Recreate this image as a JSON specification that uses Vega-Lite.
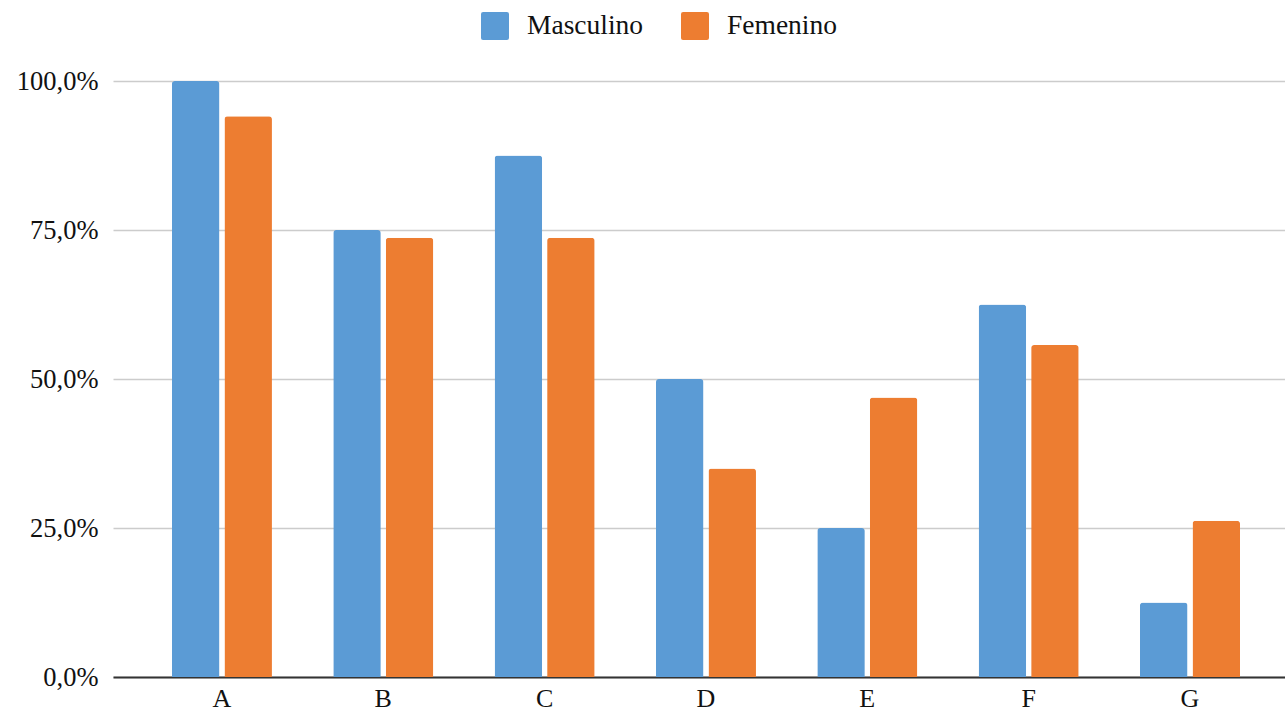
{
  "$schema": "https://vega.github.io/schema/vega-lite/v6.json",
  "autosize": "none",
  "width": 1172,
  "height": 596,
  "padding": {"left": 113, "top": 81, "right": 0, "bottom": 44},
  "background": "white",
  "config": {
    "font": "Liberation Serif",
    "view": {"stroke": null}
  },
  "data": {
    "values": [
      {"grupo": "A", "sexo": "Masculino", "valor": 1.0},
      {"grupo": "A", "sexo": "Femenino", "valor": 0.941},
      {"grupo": "B", "sexo": "Masculino", "valor": 0.75},
      {"grupo": "B", "sexo": "Femenino", "valor": 0.737},
      {"grupo": "C", "sexo": "Masculino", "valor": 0.875},
      {"grupo": "C", "sexo": "Femenino", "valor": 0.737},
      {"grupo": "D", "sexo": "Masculino", "valor": 0.5},
      {"grupo": "D", "sexo": "Femenino", "valor": 0.35},
      {"grupo": "E", "sexo": "Masculino", "valor": 0.25},
      {"grupo": "E", "sexo": "Femenino", "valor": 0.469},
      {"grupo": "F", "sexo": "Masculino", "valor": 0.625},
      {"grupo": "F", "sexo": "Femenino", "valor": 0.557},
      {"grupo": "G", "sexo": "Masculino", "valor": 0.125},
      {"grupo": "G", "sexo": "Femenino", "valor": 0.262}
    ]
  },
  "mark": {"type": "bar", "cornerRadiusTopLeft": 3, "cornerRadiusTopRight": 3},
  "encoding": {
    "x": {
      "field": "grupo",
      "type": "nominal",
      "sort": ["A", "B", "C", "D", "E", "F", "G"],
      "scale": {"paddingInner": 0.38, "paddingOuter": 0.322, "align": 0.567},
      "axis": {
        "title": null,
        "labelAngle": 0,
        "labelFont": "Liberation Serif",
        "labelFontSize": 26,
        "labelColor": "#111111",
        "labelPadding": 8,
        "ticks": false,
        "domainColor": "#333333",
        "domainWidth": 2,
        "grid": false
      }
    },
    "xOffset": {
      "field": "sexo",
      "type": "nominal",
      "sort": ["Masculino", "Femenino"],
      "scale": {"paddingInner": 0.095, "paddingOuter": 0}
    },
    "y": {
      "field": "valor",
      "type": "quantitative",
      "scale": {"domain": [0, 1], "nice": false},
      "axis": {
        "title": null,
        "values": [0, 0.25, 0.5, 0.75, 1],
        "labelExpr": "replace(format(datum.value * 100, '.1f'), '.', ',') + '%'",
        "labelFont": "Liberation Serif",
        "labelFontSize": 26.5,
        "labelColor": "#111111",
        "labelPadding": 15,
        "ticks": false,
        "domain": false,
        "gridColor": "#cccccc",
        "gridWidth": 1.5
      }
    },
    "color": {
      "field": "sexo",
      "type": "nominal",
      "sort": ["Masculino", "Femenino"],
      "scale": {"domain": ["Masculino", "Femenino"], "range": ["#5B9BD5", "#ED7D31"]},
      "legend": {
        "title": null,
        "orient": "none",
        "direction": "horizontal",
        "legendX": 368,
        "legendY": -69,
        "symbolType": "M-0.85,-1H0.85Q1,-1 1,-0.85V0.85Q1,1 0.85,1H-0.85Q-1,1 -1,0.85V-0.85Q-1,-1 -0.85,-1Z",
        "symbolSize": 784,
        "symbolStrokeWidth": 0,
        "labelFont": "Liberation Serif",
        "labelFontSize": 27.5,
        "labelColor": "#111111",
        "labelOffset": 18,
        "columnPadding": 37
      }
    }
  }
}
